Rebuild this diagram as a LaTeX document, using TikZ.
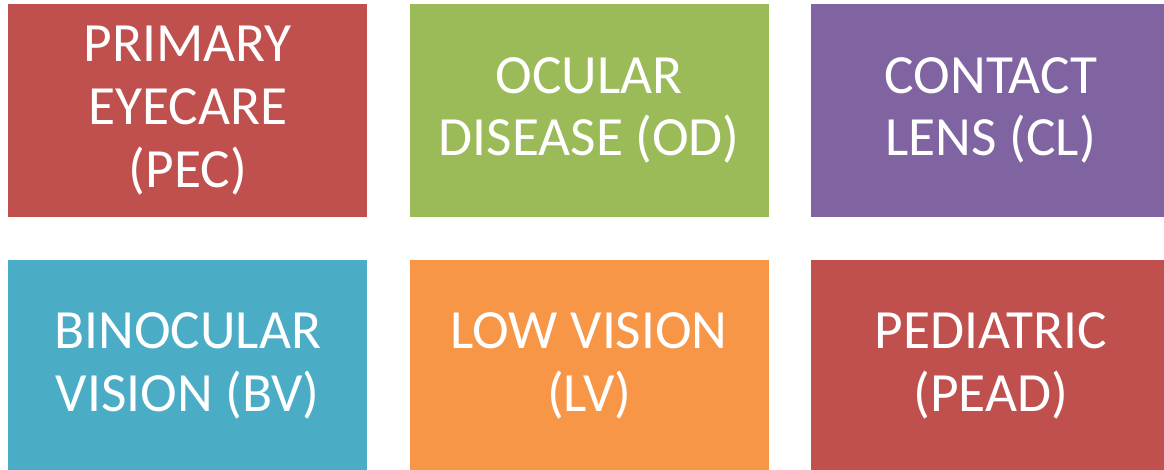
\documentclass[tikz,border=0pt]{standalone}
\usepackage{fontspec}
\setmainfont{Carlito}
\usetikzlibrary{positioning}
\definecolor{pecred}{HTML}{C0504D}
\definecolor{odgreen}{HTML}{9BBB59}
\definecolor{clpurple}{HTML}{8064A2}
\definecolor{bvblue}{HTML}{4BACC6}
\definecolor{lvorange}{HTML}{F79646}
\tikzset{topicbox/.style={rectangle, fill=#1, text=white, minimum width=269.25pt, minimum height=159.75pt, inner sep=0pt, align=center, font=\fontsize{41.5}{47}\selectfont}}

\begin{document}
\begin{tikzpicture}[node distance=31.5pt]
    \useasboundingbox (0,0) rectangle (873pt,-352.5pt);
    % Top row
    \node[topicbox=pecred, anchor=north west] (pec) at (6pt,-2.8pt) {PRIMARY\\EYECARE\\(PEC)};
    \node[topicbox=odgreen, right=of pec] (od) {OCULAR\\DISEASE (OD)};
    \node[topicbox=clpurple, right=of od] (cl) {CONTACT\\LENS (CL)};
    
    % Bottom row
    \node[topicbox=bvblue, below=of pec] (bv) {BINOCULAR\\VISION (BV)};
    \node[topicbox=lvorange, right=of bv] (lv) {LOW VISION\\(LV)};
    \node[topicbox=pecred, right=of lv] (pead) {PEDIATRIC\\(PEAD)};
\end{tikzpicture}
\end{document}
